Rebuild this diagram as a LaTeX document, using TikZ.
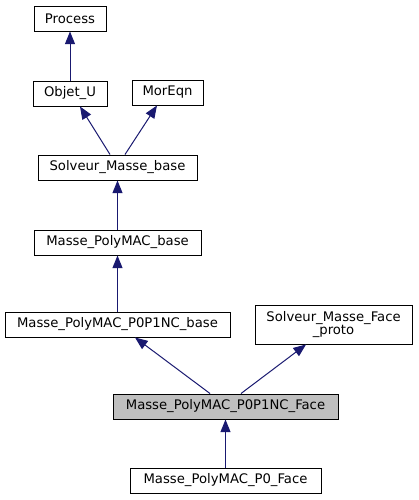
\documentclass[tikz,border=0pt]{standalone}
\usepackage{fontspec}
\setmainfont{DejaVu Sans}
\usepackage{tikz}
\usetikzlibrary{positioning,arrows.meta}
\definecolor{midnightblue}{RGB}{25,25,112}
\tikzset{node distance=56.25pt, auto,
  cls/.style={draw, line width=0.7pt, rectangle, minimum height=18.75pt,
    inner sep=1pt, font=\fontsize{9.9}{11}\selectfont, align=center},
  inh/.style={-{Triangle[length=9.5pt,width=7.5pt]}, midnightblue, line width=0.75pt}}
\begin{document}
\begin{tikzpicture}[x=0.75pt,y=-0.75pt]
  \useasboundingbox (0,0) rectangle (418,500);

  \node (Process) [cls, minimum width=54pt] at (70,18.5) {Process};
  \node (ObjetU) [cls, minimum width=55.5pt, below of=Process] {Objet\_U};
  \node (MorEqn) [cls, minimum width=53.25pt] at (167.5,92.5) {MorEqn};
  \node (SolvBase) [cls, minimum width=119.25pt] at (117.5,167.5) {Solveur\_Masse\_base};
  \node (PolyBase) [cls, minimum width=125.25pt, below of=SolvBase] {Masse\_PolyMAC\_base};
  \node (NCBase) [cls, minimum width=168.75pt] at (117.5,324.5) {Masse\_PolyMAC\_P0P1NC\_base};
  \node (FaceProto) [cls, minimum width=117.75pt, minimum height=29.25pt, inner sep=0pt] at (333.5,324.5) {Solveur\_Masse\_Face\\[-1pt]\_proto};
  \node (NCFace) [cls, fill={rgb,255:red,191;green,191;blue,191}, minimum width=168.75pt] at (225.5,406.5) {Masse\_PolyMAC\_P0P1NC\_Face};
  \node (P0Face) [cls, minimum width=143.25pt] at (225.5,480.5) {Masse\_PolyMAC\_P0\_Face};

  \draw [inh] (ObjetU) to (Process);
  \draw [inh] ([xshift=-5.6pt]SolvBase.north) to ([xshift=7.5pt]ObjetU.south);
  \draw [inh] ([xshift=5.6pt]SolvBase.north) to ([xshift=-7.9pt]MorEqn.south);
  \draw [inh] (PolyBase) to (SolvBase);
  \draw [inh] (NCBase) to (PolyBase);
  \draw [inh] ([xshift=-11.6pt]NCFace.north) to ([xshift=13.1pt]NCBase.south);
  \draw [inh] ([xshift=11.6pt]NCFace.north) to ([xshift=-20.6pt]FaceProto.south);
  \draw [inh] (P0Face) to (NCFace);
\end{tikzpicture}
\end{document}
